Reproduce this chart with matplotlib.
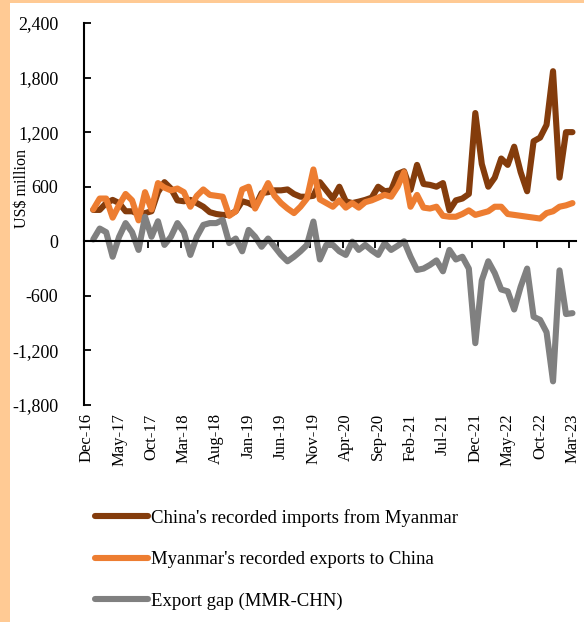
import matplotlib.pyplot as plt
import pandas as pd
from matplotlib.patches import Rectangle

# Meses del eje (Dec-16 .. Mar-23), datos desde Jan-17
meses = pd.date_range('2016-12-01', '2023-03-01', freq='MS')
etiquetas = [m.strftime('%b-%y') for m in meses]

# US$ million, Jan-17 .. Mar-23
china_imports = [345, 345, 420, 455, 420, 330, 330, 300, 310, 330,
                 540, 650, 580, 450, 440, 455, 420, 380, 320, 300,
                 290, 290, 330, 440, 420, 380, 530, 540, 560, 560,
                 570, 520, 490, 490, 500, 650, 560, 470, 600, 440,
                 420, 436, 455, 480, 600, 550, 560, 740, 770, 565,
                 840, 630, 620, 600, 640, 340, 450, 470, 520, 1410,
                 850, 600, 700, 910, 840, 1040, 760, 550, 1100, 1140,
                 1280, 1870, 700, 1200, 1200]
myanmar_exports = [350, 470, 470, 260, 400, 520, 450, 230, 540, 350,
                   640, 590, 560, 580, 540, 380, 500, 570, 510, 500,
                   490, 280, 330, 570, 600, 360, 500, 640, 500, 420,
                   360, 310, 380, 470, 790, 460, 420, 380, 450, 370,
                   420, 370, 430, 450, 480, 510, 490, 600, 760, 380,
                   510, 370, 360, 380, 280, 270, 270, 300, 340, 290,
                   310, 330, 380, 380, 300, 290, 280, 270, 260, 250,
                   310, 330, 380, 395, 420]
export_gap = [20, 140, 100, -170, 50, 200, 100, -95, 270, 50,
              220, -40, 50, 200, 100, -150, 50, 180, 200, 200,
              235, -20, 30, -110, 125, 50, -60, 30, -60, -150,
              -220, -170, -110, -40, 217, -200, -40, -40, -110, -150,
              -4, -95, -40, -100, -150, -20, -95, -50, 0, -170,
              -315, -300, -260, -210, -330, -95, -200, -170, -300, -1120,
              -430, -220, -350, -530, -550, -750, -500, -300, -830, -864,
              -1000, -1540, -320, -800, -790]

x = list(range(1, len(meses)))

fig = plt.figure(figsize=(5.84, 6.22), dpi=100, facecolor='#FFCA94')
fig.patches.append(Rectangle((10 / 584, 0), 1, 1 - 3 / 622, transform=fig.transFigure,
                             facecolor='white', edgecolor='none', zorder=-1))

ax = fig.add_axes([83.5 / 584, 1 - 405 / 622, 492.2 / 584, 382 / 622])

estilo = dict(linewidth=4.4, solid_capstyle='round', solid_joinstyle='round')
ax.plot(x, china_imports, color='#843C0C', label="China's recorded imports from Myanmar", **estilo)
ax.plot(x, myanmar_exports, color='#ED7D31', label="Myanmar's recorded exports to China", **estilo)
ax.plot(x, export_gap, color='#808080', label='Export gap (MMR-CHN)', **estilo)

# Eje Y
ax.set_ylim(-1800, 2400)
yt = list(range(-1800, 2401, 600))
ax.set_yticks(yt)
ax.set_yticklabels([f'{v:,}' for v in yt], fontsize=13, family='Liberation Serif')
ax.tick_params(axis='y', direction='in', length=5, width=1.3, pad=18)
ax.set_ylabel('US$ million', fontsize=11.5, family='Liberation Serif')
ax.yaxis.set_label_coords(-0.108, 0.568)

# Eje X: marcas en la línea cero, etiquetas abajo
ax.set_xlim(-0.5, len(meses) - 0.5)
ax.spines['bottom'].set_position(('data', 0))
ax.set_xticks([i - 0.5 for i in range(0, len(meses), 5)])
ax.set_xticklabels([])
ax.tick_params(axis='x', direction='out', length=5, width=1.3)

sec = ax.secondary_xaxis('bottom')
sec.set_xticks(list(range(0, len(meses), 5)))
sec.set_xticklabels(etiquetas[::5], rotation=90, fontsize=12, family='Liberation Serif')
sec.tick_params(length=0, pad=6)
sec.spines['bottom'].set_visible(False)

for lado in ['top', 'right']:
    ax.spines[lado].set_visible(False)
ax.spines['left'].set_linewidth(1.5)
ax.spines['bottom'].set_linewidth(1.5)

fig.legend(loc='upper left', bbox_to_anchor=(95 / 584, 1 - 509 / 622), frameon=False,
           prop={'family': 'Liberation Serif', 'size': 13.5}, handlelength=2.8,
           handletextpad=0.2, labelspacing=1.3, borderpad=0, borderaxespad=0)

plt.savefig('out.png', dpi=100, facecolor=fig.get_facecolor())
